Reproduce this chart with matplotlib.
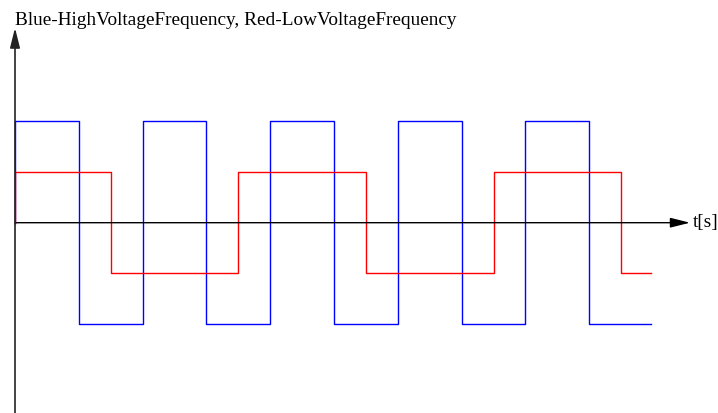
import matplotlib.pyplot as plt

# switching instants (t units) and levels
blue_t = [0, 0, 1, 2, 3, 4, 5, 6, 7, 8, 9, 9.97]
blue_v = [0, 2, -2, 2, -2, 2, -2, 2, -2, 2, -2, -2]
red_t = [0, 0, 1.5, 3.5, 5.5, 7.5, 9.5, 9.97]
red_v = [0, 1, -1, 1, -1, 1, -1, -1]

title = "Blue-HighVoltageFrequency, Red-LowVoltageFrequency"
xlabel = "t[s]"

plt.rcParams['font.family'] = ['Liberation Serif', 'DejaVu Serif']

fig = plt.figure(figsize=(7.18, 4.13), dpi=100)
ax = fig.add_axes([0, 0, 1, 1])
ax.set_xlim(-15 / 63.8, 703 / 63.8)
ax.set_ylim(-(413 - 222.7) / 50.6, 222.7 / 50.6)
ax.axis("off")

# axes with arrows
head = "-|>,head_length=0.6,head_width=0.15"
ax.annotate("", xy=(10.58, 0), xytext=(0, 0),
            arrowprops=dict(arrowstyle=head, color="black", lw=1.0,
                            mutation_scale=20, shrinkA=0, shrinkB=0))
ax.annotate("", xy=(0, 3.85), xytext=(0, -3.8),
            arrowprops=dict(arrowstyle=head, color="#222222", lw=1.2,
                            mutation_scale=20, shrinkA=0, shrinkB=0))

ax.step(blue_t, blue_v, where="post", color="#0000ff", lw=1.0)
ax.step(red_t, red_v, where="post", color="#ff0000", lw=1.0)

ax.text(10.62, 0, xlabel, ha="left", va="center", fontsize=13.9)
fig.text(15 / 718, 1 - 25 / 413, title, ha="left", va="baseline", fontsize=13.9)

fig.savefig("out.png", dpi=100, facecolor="white")
